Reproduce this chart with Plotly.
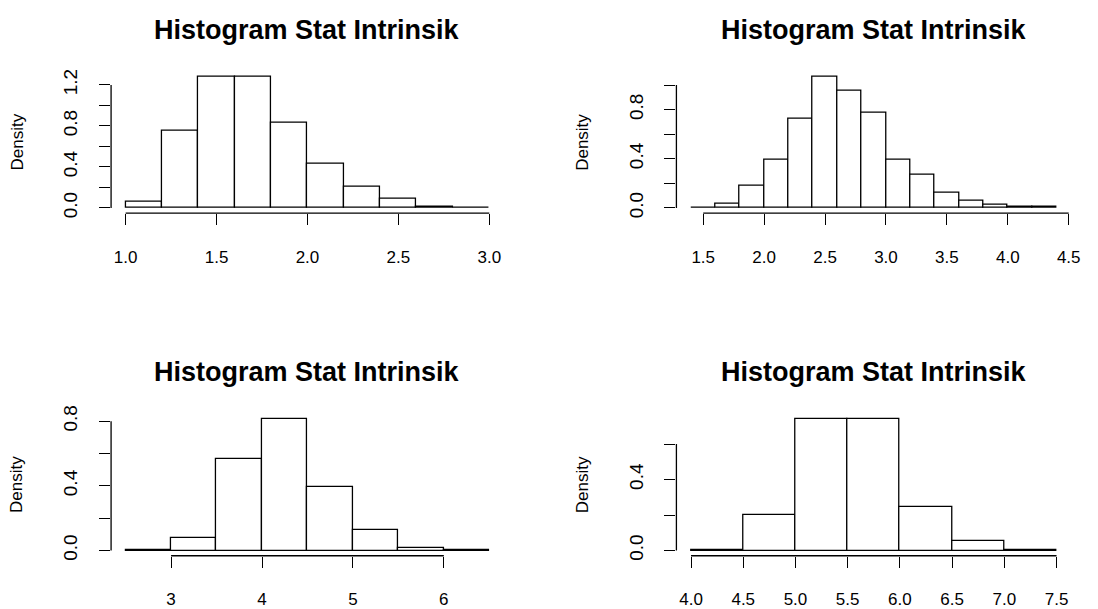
import plotly.graph_objects as go

# ---------------- data ----------------
title_text = "Histogram Stat Intrinsik"
y_title = "Density"

p1_breaks = [1.0, 1.2, 1.4, 1.6, 1.8, 2.0, 2.2, 2.4, 2.6, 2.8, 3.0]
p1_density = [0.057, 0.758, 1.278, 1.278, 0.827, 0.429, 0.211, 0.095, 0.013, 0.003]
p1_xticks = [1.0, 1.5, 2.0, 2.5, 3.0]
p1_yticks = [0.0, 0.2, 0.4, 0.6, 0.8, 1.0, 1.2]
p1_ylabels = ["0.0", "", "0.4", "", "0.8", "", "1.2"]

p2_breaks = [1.4, 1.6, 1.8, 2.0, 2.2, 2.4, 2.6, 2.8, 3.0, 3.2, 3.4, 3.6, 3.8, 4.0, 4.2, 4.4]
p2_density = [0.005, 0.037, 0.179, 0.389, 0.724, 1.066, 0.955, 0.779, 0.389,
              0.268, 0.124, 0.058, 0.026, 0.011, 0.008]
p2_xticks = [1.5, 2.0, 2.5, 3.0, 3.5, 4.0, 4.5]
p2_yticks = [0.0, 0.2, 0.4, 0.6, 0.8, 1.0]
p2_ylabels = ["0.0", "", "0.4", "", "0.8", ""]

p3_breaks = [2.5, 3.0, 3.5, 4.0, 4.5, 5.0, 5.5, 6.0, 6.5]
p3_density = [0.003, 0.076, 0.566, 0.812, 0.390, 0.128, 0.018, 0.003]
p3_xticks = [3, 4, 5, 6]
p3_yticks = [0.0, 0.2, 0.4, 0.6, 0.8]
p3_ylabels = ["0.0", "", "0.4", "", "0.8"]

p4_breaks = [4.0, 4.5, 5.0, 5.5, 6.0, 6.5, 7.0, 7.5]
p4_density = [0.005, 0.202, 0.740, 0.740, 0.248, 0.056, 0.005]
p4_xticks = [4.0, 4.5, 5.0, 5.5, 6.0, 6.5, 7.0, 7.5]
p4_yticks = [0.0, 0.2, 0.4, 0.6]
p4_ylabels = ["0.0", "", "0.4", ""]

panels = [
    (p1_breaks, p1_density, p1_xticks, p1_yticks, p1_ylabels, "{:.1f}"),
    (p2_breaks, p2_density, p2_xticks, p2_yticks, p2_ylabels, "{:.1f}"),
    (p3_breaks, p3_density, p3_xticks, p3_yticks, p3_ylabels, "{:d}"),
    (p4_breaks, p4_density, p4_xticks, p4_yticks, p4_ylabels, "{:.1f}"),
]

# ---------------- layout / style ----------------
W, H = 1098, 609
FONT = "Liberation Sans, Arial, Helvetica, sans-serif"
LW = 1.3


def fx(px):
    return px / W


def fy(py):
    return 1 - py / H


x_domains = [[fx(112), fx(508)], [fx(682), fx(1080)]]
y_domains = [[fy(563.4), fy(417.3)], [fy(210.4), fy(64.6)]]
grid_pos = [(0, 1), (1, 1), (0, 0), (1, 0)]  # (col, row) ; row 1 = top

fig = go.Figure()
shapes = []
annotations = []

for i, (brk, dens, xt, yt, yl, fmt) in enumerate(panels):
    n = i + 1
    xa = "x" if n == 1 else f"x{n}"
    ya = "y" if n == 1 else f"y{n}"
    centers = [(brk[k] + brk[k + 1]) / 2 for k in range(len(dens))]
    widths = [brk[k + 1] - brk[k] for k in range(len(dens))]
    fig.add_trace(go.Bar(
        x=centers, y=dens, width=widths, base=0,
        marker=dict(color="white", line=dict(color="black", width=LW)),
        xaxis=xa, yaxis=ya, showlegend=False, hoverinfo="x+y",
    ))
    span = brk[-1] - brk[0]
    ymax = max(dens)
    col, row = grid_pos[i]
    axis_common = dict(showgrid=False, zeroline=False, showline=False,
                       ticks="outside", ticklen=11, tickwidth=LW, tickcolor="black",
                       tickfont=dict(family=FONT, size=17, color="black"))
    xkey = "xaxis" if n == 1 else f"xaxis{n}"
    ykey = "yaxis" if n == 1 else f"yaxis{n}"
    fig.update_layout(**{
        xkey: dict(axis_common, domain=x_domains[col], anchor=ya,
                   range=[brk[0] - 0.04 * span, brk[-1] + 0.04 * span],
                   tickmode="array", tickvals=xt,
                   ticktext=[fmt.format(v) for v in xt],
                   ticklabelstandoff=17),
        ykey: dict(axis_common, domain=y_domains[row], anchor=xa,
                   range=[-0.04 * ymax, 1.04 * ymax],
                   tickmode="array", tickvals=yt, ticktext=yl,
                   tickangle=-90, ticklabelstandoff=14,
                   tickfont=dict(family=FONT, size=19, color="black")),
    })
    # R-style axis lines spanning first to last tick
    shapes.append(dict(type="line", xref=xa, yref=f"{ya} domain",
                       x0=xt[0], x1=xt[-1], y0=0, y1=0,
                       line=dict(color="black", width=LW)))
    shapes.append(dict(type="line", xref=f"{xa} domain", yref=ya,
                       x0=0, x1=0, y0=yt[0], y1=yt[-1],
                       line=dict(color="black", width=LW)))
    annotations.append(dict(text="<b>" + title_text + "</b>", xref=f"{xa} domain",
                            yref=f"{ya} domain", x=0.5, y=1, yshift=42,
                            xanchor="center", yanchor="middle", showarrow=False,
                            font=dict(family=FONT, size=27, color="black")))
    annotations.append(dict(text=y_title, xref=f"{xa} domain", yref=f"{ya} domain",
                            x=0, y=0.5, xshift=-94, xanchor="center", yanchor="middle",
                            textangle=-90, showarrow=False,
                            font=dict(family=FONT, size=17, color="black")))

fig.update_layout(
    width=W, height=H, margin=dict(l=0, r=0, t=0, b=0),
    paper_bgcolor="white", plot_bgcolor="white",
    shapes=shapes, annotations=annotations, bargap=0,
)

fig.write_html(
    "out.html",
    config={"displayModeBar": False},
    post_script="document.body.style.margin='0px';document.body.style.overflow='hidden';",
)
